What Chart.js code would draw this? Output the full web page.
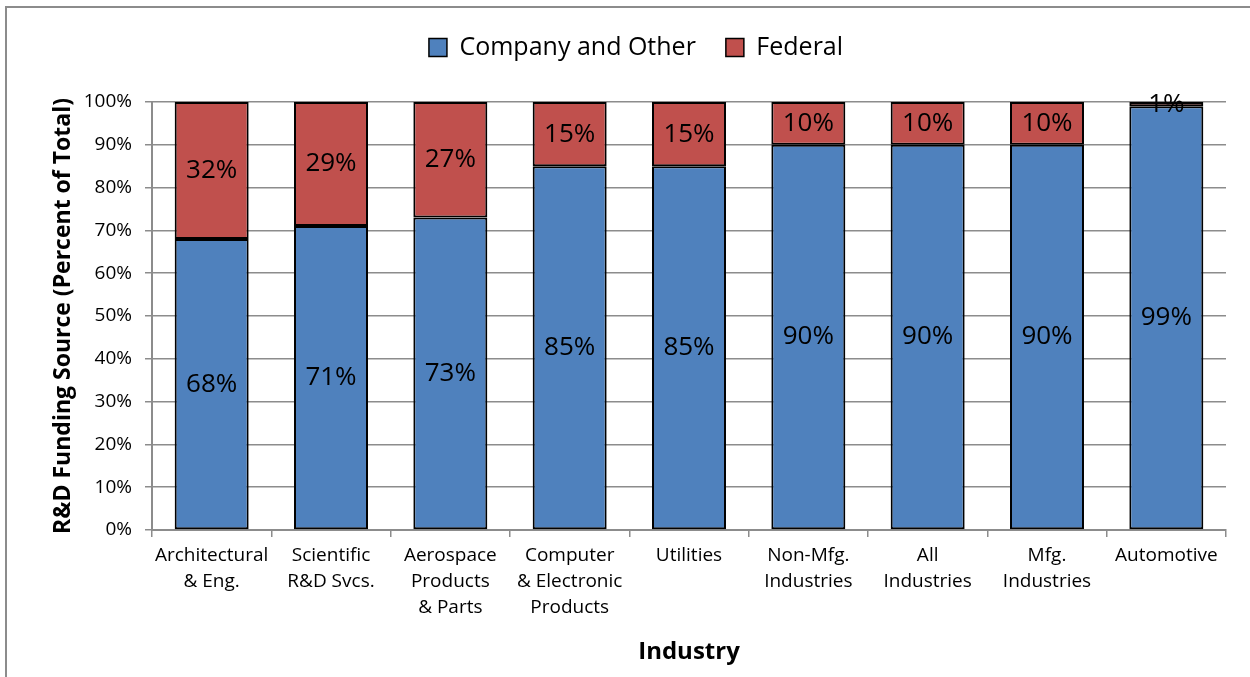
<!DOCTYPE html>
<html>
<head>
<meta charset="utf-8">
<script src="https://cdn.jsdelivr.net/npm/chart.js@4"></script>
<style>
  body { margin: 0; background: #fff; }
  #wrap { position: absolute; left: 0; top: 0; width: 1250px; height: 677px; }
</style>
</head>
<body>
<div id="wrap"><canvas id="graph"></canvas></div>
<script>
const industries = [
    ['Architectural', '& Eng.'],
    ['Scientific', 'R&D Svcs.'],
    ['Aerospace', 'Products', '& Parts'],
    ['Computer', '& Electronic', 'Products'],
    'Utilities',
    ['Non-Mfg.', 'Industries'],
    ['All', 'Industries'],
    ['Mfg.', 'Industries'],
    'Automotive'
];
const company = [68, 71, 73, 85, 85, 90, 90, 90, 99];
const federal = [32, 29, 27, 15, 15, 10, 10, 10, 1];
const yTicks = [0, 10, 20, 30, 40, 50, 60, 70, 80, 90, 100];

const font = '"Open Sans", "Noto Sans", sans-serif';

// outer frame of the chart object
const frame = {
    id: 'frame',
    beforeDraw(chart) {
        const c = chart.ctx;
        c.save();
        c.fillStyle = '#fff';
        c.fillRect(0, 0, chart.width, chart.height);
        c.strokeStyle = '#8c8c8c';
        c.lineWidth = 2;
        c.beginPath();
        c.moveTo(6, chart.height + 5);
        c.lineTo(6, 7);
        c.lineTo(chart.width + 5, 7);
        c.stroke();
        c.restore();
    }
};

// extra room under the legend
const legendGap = {
    id: 'legendGap',
    beforeInit(chart) {
        const fit = chart.legend.fit;
        chart.legend.fit = function () {
            fit.bind(chart.legend)();
            this.height += 32;
        };
    }
};

// percentage written in the middle of each segment
const segLabels = {
    id: 'segLabels',
    afterDatasetsDraw(chart) {
        const c = chart.ctx;
        c.save();
        c.font = '26px ' + font;
        c.fillStyle = '#000';
        c.textAlign = 'center';
        c.textBaseline = 'middle';
        chart.data.datasets.forEach((ds, i) => {
            chart.getDatasetMeta(i).data.forEach((bar, j) => {
                const p = bar.getProps(['x', 'y', 'base'], true);
                c.fillText(ds.data[j] + '%', p.x, (p.y + p.base) / 2);
            });
        });
        c.restore();
    }
};

var ctx = document.getElementById('graph').getContext('2d');
var myChart = new Chart(ctx, {
    type: 'bar',
    data: {
        labels: industries,
        datasets: [{
            label: 'Company and Other',
            data: company,
            backgroundColor: '#4f81bd',
            borderColor: '#000',
            borderWidth: 2,
            borderSkipped: false
        }, {
            label: 'Federal',
            data: federal,
            backgroundColor: '#c0504d',
            borderColor: '#000',
            borderWidth: 2,
            borderSkipped: false
        }]
    },
    options: {
        responsive: true,
        maintainAspectRatio: false,
        animation: false,
        layout: { padding: { left: 46, right: 24, top: 5, bottom: 6 } },
        datasets: { bar: { categoryPercentage: 1, barPercentage: 0.62 } },
        plugins: {
            tooltip: { enabled: false },
            legend: {
                position: 'top',
                labels: {
                    color: '#000',
                    font: { family: font, size: 25 },
                    boxWidth: 18,
                    boxHeight: 18,
                    padding: 30,
                    generateLabels(chart) {
                        return chart.data.datasets.map((ds, i) => ({
                            text: ds.label,
                            fillStyle: ds.backgroundColor,
                            strokeStyle: '#000',
                            lineWidth: 1.5,
                            datasetIndex: i
                        }));
                    }
                }
            }
        },
        scales: {
            x: {
                stacked: true,
                offset: true,
                grid: {
                    offset: true,
                    drawOnChartArea: false,
                    drawTicks: true,
                    tickLength: 7,
                    color: '#8c8c8c',
                    lineWidth: 1.5
                },
                border: { color: '#8c8c8c', width: 2 },
                ticks: {
                    color: '#000',
                    maxRotation: 0,
                    autoSkip: false,
                    padding: 6,
                    font: { family: font, size: 19, lineHeight: 1.37 }
                },
                title: {
                    display: true,
                    text: 'Industry',
                    color: '#000',
                    font: { family: font, size: 24, weight: 'bold' }
                },
                afterFit(scale) { scale.height = 141; }
            },
            y: {
                stacked: true,
                min: 0,
                max: 100,
                afterBuildTicks(scale) {
                    scale.ticks = yTicks.map(v => ({ value: v }));
                },
                grid: {
                    color: '#8c8c8c',
                    lineWidth: 1.5,
                    tickLength: 7
                },
                border: { color: '#8c8c8c', width: 2 },
                ticks: {
                    color: '#000',
                    padding: 13,
                    font: { family: font, size: 19 },
                    callback: v => v + '%'
                },
                title: {
                    display: true,
                    text: 'R&D Funding Source (Percent of Total)',
                    color: '#000',
                    font: { family: font, size: 23, weight: 'bold' }
                },
                afterFit(scale) { scale.width = 106; }
            }
        }
    },
    plugins: [frame, legendGap, segLabels]
});
</script>
</body>
</html>
